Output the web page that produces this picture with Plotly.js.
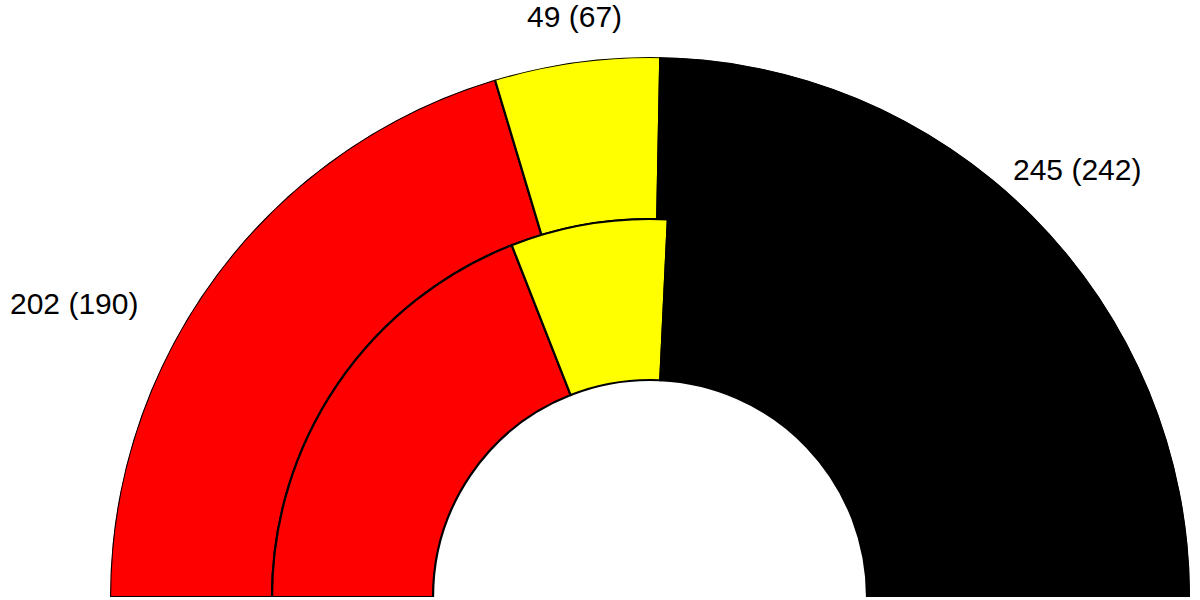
<!DOCTYPE html>
<html>
<head>
<meta charset="utf-8">
<script src="https://cdn.plot.ly/plotly-3.0.1.min.js"></script>
<style>
  html, body { margin: 0; padding: 0; background: #fff; }
  #chart { width: 1200px; height: 600px; }
</style>
</head>
<body>
<div id="chart"></div>
<script>
// seats, left to right
const parties = ['Red', 'Yellow', 'Black'];
const seatsOuter = [202, 49, 245];
const seatsInner = [190, 67, 242];
const colors = ['#ff0000', '#ffff00', '#000000'];

// turn a list of seat counts into sectors of a half circle
const sectors = (vals) => {
  const total = vals.reduce((a, b) => a + b, 0);
  let cum = 0;
  const theta = [], width = [];
  for (const v of vals) {
    const w = v / total * 180;
    theta.push(cum + w / 2);
    width.push(w);
    cum += w;
  }
  return { theta, width };
};

const outer = sectors(seatsOuter);
const inner = sectors(seatsInner);

const ring = (s, base, len) => ({
  type: 'barpolar',
  theta: s.theta,
  width: s.width,
  r: s.theta.map(() => len),
  base: s.theta.map(() => base),
  text: parties,
  hoverinfo: 'text',
  marker: { color: colors, line: { color: '#000', width: 2.2 } },
  showlegend: false,
});

const data = [ring(outer, 378, 162), ring(inner, 217, 161)];

// label positions (paper coords)
const labelPos = [[0.0617, 0.495], [0.479, 0.972], [0.8975, 0.718]];
const annotations = seatsOuter.map((v, i) => ({
  xref: 'paper', yref: 'paper',
  x: labelPos[i][0], y: labelPos[i][1],
  text: v + ' (' + seatsInner[i] + ')',
  showarrow: false,
  xanchor: 'center', yanchor: 'middle',
  font: { family: 'Liberation Sans, Arial, sans-serif', size: 30, color: '#000' },
}));

const layout = {
  width: 1200,
  height: 600,
  margin: { l: 0, r: 0, t: 0, b: 0 },
  paper_bgcolor: '#fff',
  showlegend: false,
  polar: {
    domain: { x: [0.0917, 0.9917], y: [0.005, 0.905] },
    sector: [0, 180],
    bgcolor: 'rgba(0,0,0,0)',
    bargap: 0,
    radialaxis: { range: [0, 540], visible: false, showgrid: false },
    angularaxis: {
      direction: 'clockwise', rotation: 180, visible: false,
      showgrid: false, showline: false, ticks: '', showticklabels: false,
    },
  },
  annotations: annotations,
};

Plotly.newPlot('chart', data, layout, { staticPlot: true });
</script>
</body>
</html>
